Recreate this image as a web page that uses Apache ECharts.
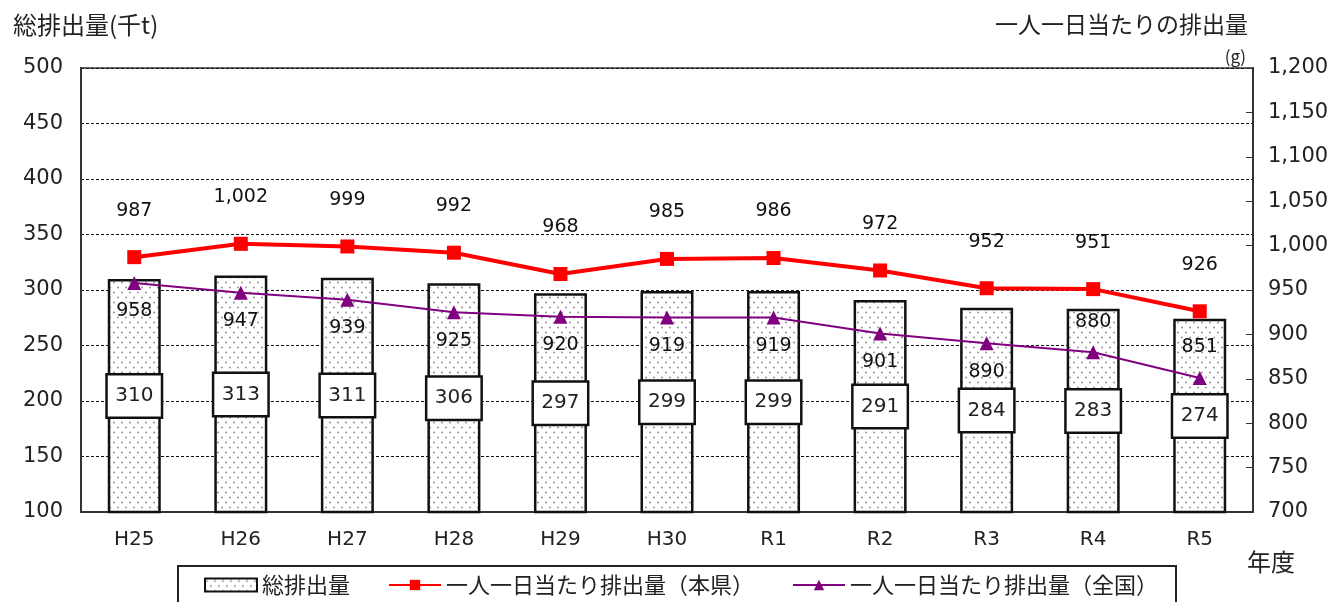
<!DOCTYPE html>
<html>
<head>
<meta charset="utf-8">
<script src="https://cdn.jsdelivr.net/npm/echarts@6/dist/echarts.min.js"></script>
<style>
  html, body { margin: 0; padding: 0; background: #fff; }
  #chart { width: 1333px; height: 602px; }
</style>
</head>
<body>
<div id="chart"></div>
<script>
const years = ['H25', 'H26', 'H27', 'H28', 'H29', 'H30', 'R1', 'R2', 'R3', 'R4', 'R5'];
const totalEmission = [310, 313, 311, 306, 297, 299, 299, 291, 284, 283, 274];
const perCapitaPref = [987, 1002, 999, 992, 968, 985, 986, 972, 952, 951, 926];
const perCapitaNation = [958, 947, 939, 925, 920, 919, 919, 901, 890, 880, 851];

const JP = '"Noto Sans CJK JP", sans-serif';
const NUM = '"DejaVu Sans", "Noto Sans CJK JP", sans-serif';

// 点々のパターン
function dotPattern() {
    const c = document.createElement('canvas');
    c.width = 8;
    c.height = 10;
    const ctx = c.getContext('2d');
    ctx.fillStyle = '#fff';
    ctx.fillRect(0, 0, 8, 10);
    ctx.fillStyle = '#8a8a8a';
    ctx.beginPath();
    ctx.arc(2, 2.5, 0.9, 0, Math.PI * 2);
    ctx.arc(6, 7.5, 0.9, 0, Math.PI * 2);
    ctx.fill();
    return c;
}
const pattern = { image: dotPattern(), repeat: 'repeat' };

const chart = echarts.init(document.getElementById('chart'));

const titleStyle = (size) => ({ fontSize: size, fontWeight: 'normal', color: '#222', fontFamily: JP });

const option = {
    animation: false,
    textStyle: { fontFamily: NUM },
    title: [
        { text: '総排出量(千t)', left: 8, top: 8, textStyle: titleStyle(24) },
        { text: '一人一日当たりの排出量', right: 80, top: 8, textStyle: titleStyle(23) },
        { text: '(g)', right: 82, top: 43, textStyle: titleStyle(17) },
        { text: '年度', left: 1242, top: 545, textStyle: titleStyle(24) }
    ],
    grid: {
        left: 81,
        right: 80,
        top: 68,
        bottom: 90,
        show: true,
        borderColor: '#666',
        borderWidth: 2
    },
    legend: {
        top: 566,
        left: 178,
        padding: [8, 18, 10, 26],
        borderColor: '#222',
        borderWidth: 2,
        itemGap: 38,
        itemWidth: 52,
        itemHeight: 13,
        textStyle: { fontSize: 22, color: '#222', fontFamily: JP },
        data: [
            { name: '総排出量', icon: 'rect' },
            '一人一日当たり排出量（本県）',
            '一人一日当たり排出量（全国）'
        ]
    },
    xAxis: {
        type: 'category',
        data: years,
        axisLine: { lineStyle: { color: '#333', width: 2 } },
        axisTick: { show: false },
        axisLabel: { fontSize: 20, color: '#222', margin: 18 }
    },
    yAxis: [
        {
            type: 'value',
            min: 100,
            max: 500,
            interval: 50,
            axisLine: { show: true, lineStyle: { color: '#333', width: 2 } },
            axisTick: { show: false },
            axisLabel: { fontSize: 21, color: '#222', margin: 18 },
            splitLine: { lineStyle: { color: '#111', type: [3, 2], width: 1 } }
        },
        {
            type: 'value',
            min: 700,
            max: 1200,
            interval: 50,
            axisLine: { show: true, lineStyle: { color: '#333', width: 2 } },
            axisTick: { show: true, inside: true, length: 7, lineStyle: { color: '#333' } },
            axisLabel: {
                fontSize: 21,
                color: '#222',
                margin: 15,
                formatter: v => v.toLocaleString('en-US')
            },
            splitLine: { show: false }
        }
    ],
    series: [
        {
            name: '総排出量',
            type: 'bar',
            yAxisIndex: 0,
            barWidth: 53,
            itemStyle: {
                color: pattern,
                borderColor: '#111',
                borderWidth: 2.5
            },
            label: {
                show: true,
                position: 'inside',
                fontSize: 20,
                color: '#222',
                backgroundColor: '#fff',
                borderColor: '#111',
                borderWidth: 2.5,
                width: 53,
                height: 41,
                lineHeight: 41,
                align: 'center'
            },
            data: totalEmission
        },
        {
            name: '一人一日当たり排出量（本県）',
            type: 'line',
            yAxisIndex: 1,
            symbol: 'rect',
            symbolSize: 14,
            lineStyle: { color: '#ff0000', width: 4 },
            itemStyle: { color: '#ff0000' },
            label: {
                show: true,
                position: 'top',
                distance: 30,
                fontSize: 19,
                color: '#111',
                formatter: p => p.value.toLocaleString('en-US')
            },
            z: 5,
            data: perCapitaPref
        },
        {
            name: '一人一日当たり排出量（全国）',
            type: 'line',
            yAxisIndex: 1,
            symbol: 'triangle',
            symbolSize: 14,
            lineStyle: { color: '#800080', width: 2 },
            itemStyle: { color: '#800080' },
            label: {
                show: true,
                position: 'bottom',
                distance: 12,
                fontSize: 19,
                color: '#111'
            },
            z: 4,
            data: perCapitaNation.map((v, i) => i >= 9
                ? { value: v, label: { position: 'top', distance: 14 } }
                : v)
        }
    ]
};

chart.setOption(option);
</script>
</body>
</html>
